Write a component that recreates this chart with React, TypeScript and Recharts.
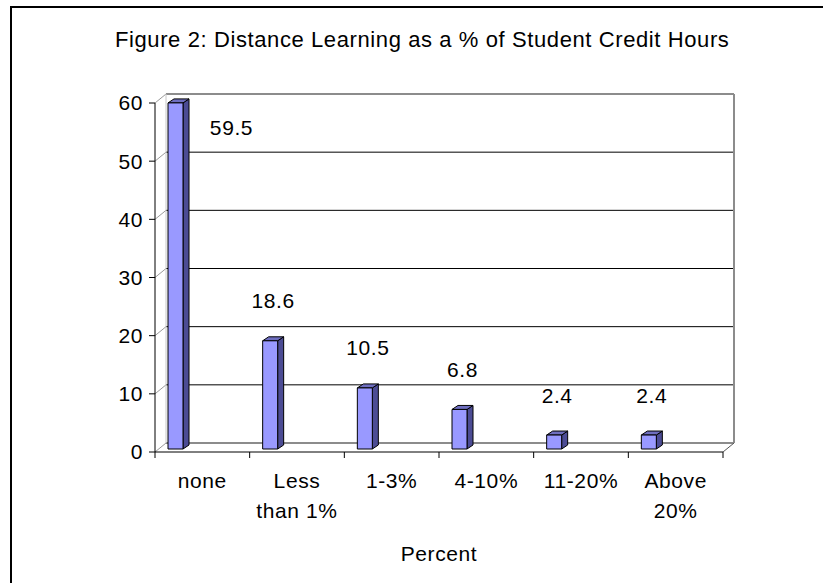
import React from 'react';
import { BarChart, Bar, XAxis, YAxis, CartesianGrid, LabelList } from 'recharts';

// chart values
const categories = ['none', 'Less\nthan 1%', '1-3%', '4-10%', '11-20%', 'Above\n20%'];
const percentValues = [59.5, 18.6, 10.5, 6.8, 2.4, 2.4];
const yTicks = [0, 10, 20, 30, 40, 50, 60];

const data = categories.map((name, i) => ({ name, value: percentValues[i] }));

// 3d look
const DX = 11; // depth of the back wall
const DY = 9;
const BAR_SHIFT = -27; // bars sit left of the category centre, like the excel original
const SIDE_X = 6;
const SIDE_Y = 4;
const LIFT = 3;
const FONT = '"Liberation Sans", Arial, sans-serif';
const FS = 21;
const LS = 0.6;

const renderGridLine = (props: any) => {
  const { x1, y1, x2, y2, index } = props;
  const top = props.y;
  const bottom = props.y != null && props.height != null ? props.y + props.height : undefined;
  const isEdge = y1 === top || y1 === bottom;
  return (
    <g key={`gl-${index}`}>
      <line x1={x1 + DX} y1={y1 - DY} x2={x2 + DX} y2={y2 - DY} stroke={isEdge ? '#8c8c8c' : '#000'} strokeWidth={isEdge ? 2 : 1} />
      <line x1={x1} y1={y1} x2={x1 + DX} y2={y1 - DY} stroke="#9a9a9a" strokeWidth={1} />
      {y1 === top && bottom != null && (
        <>
          <line x1={x2 + DX} y1={top - DY} x2={x2 + DX} y2={bottom - DY} stroke="#8c8c8c" strokeWidth={2} />
          <line x1={x1 + DX} y1={top - DY} x2={x1 + DX} y2={bottom - DY} stroke="#c8c8c8" strokeWidth={1} />
          <line x1={x2} y1={bottom} x2={x2 + DX} y2={bottom - DY} stroke="#555" strokeWidth={1} />
        </>
      )}
    </g>
  );
};

const Bar3D = (props: any) => {
  const { x, y, width, height } = props;
  if (width == null || height == null) return null;
  const fx = x + BAR_SHIFT;
  const t = y - LIFT;
  const b = y + height - LIFT;
  return (
    <g stroke="#000" strokeWidth={1} strokeLinejoin="round">
      <polygon points={`${fx + width},${t} ${fx + width + SIDE_X},${t - SIDE_Y} ${fx + width + SIDE_X},${b - SIDE_Y} ${fx + width},${b}`} fill="#4c4c94" />
      <polygon points={`${fx},${t} ${fx + SIDE_X},${t - SIDE_Y} ${fx + width + SIDE_X},${t - SIDE_Y} ${fx + width},${t}`} fill="#6e6ebf" />
      <rect x={fx} y={t} width={width} height={b - t} fill="#9999ff" />
    </g>
  );
};

const renderValueLabel = (props: any) => {
  const { x, y, width, value, index } = props;
  const cx = x + BAR_SHIFT + (width + SIDE_X) / 2;
  let lx = cx;
  let ly = y - 43;
  // no room above the tallest bar: put it beside the bar
  if (ly < 90) {
    lx = cx + 53;
    ly = y + 22;
  }
  return (
    <text key={`vl-${index}`} x={lx} y={ly} textAnchor="middle" dominantBaseline="central" fontFamily={FONT} fontSize={FS} letterSpacing={LS} fill="#000">
      {value}
    </text>
  );
};

const CategoryTick = (props: any) => {
  const { x, y, payload, index } = props;
  const half = payload?.offset || 47;
  const lines = String(payload.value).split('\n');
  return (
    <g>
      <line x1={x - half} y1={y} x2={x - half} y2={y + 6} stroke="#000" />
      {index === categories.length - 1 && <line x1={x + half} y1={y} x2={x + half} y2={y + 6} stroke="#000" />}
      <text x={x} y={y + 36} textAnchor="middle" fontFamily={FONT} fontSize={FS} letterSpacing={LS} fill="#000">
        {lines.map((ln, i) => (
          <tspan key={i} x={x} dy={i === 0 ? 0 : 30}>{ln}</tspan>
        ))}
      </text>
    </g>
  );
};

export default function App() {
  return (
    <div style={{ position: 'absolute', left: 0, top: 0, width: 823, height: 583, overflow: 'hidden', background: '#fff' }}>
      <div style={{ position: 'absolute', left: 10, top: 6, width: 900, height: 700, borderLeft: '2px solid #000', borderTop: '2px solid #000' }} />
      <div style={{ position: 'absolute', left: 0, top: 0 }}>
        <BarChart width={823} height={583} data={data} margin={{ top: 103, right: 100, left: 115, bottom: 21 }} barSize={15}>
          <text x={115} y={47} textAnchor="start" fontFamily={FONT} fontSize={22} letterSpacing={LS} fill="#000">
            Figure 2: Distance Learning as a % of Student Credit Hours
          </text>
          <CartesianGrid vertical={false} horizontal={renderGridLine} />
          <XAxis
            dataKey="name"
            height={110}
            tickLine={false}
            tickSize={0}
            tickMargin={0}
            axisLine={{ stroke: '#000' }}
            tick={<CategoryTick />}
            interval={0}
            label={{ value: 'Percent', position: 'insideBottom', offset: 1, fontFamily: FONT, fontSize: FS, letterSpacing: LS, fill: '#000' }}
          />
          <YAxis
            width={40}
            domain={[0, 60]}
            ticks={yTicks}
            tickSize={6}
            tickMargin={6}
            axisLine={{ stroke: '#000' }}
            tickLine={{ stroke: '#000' }}
            tick={{ fontFamily: FONT, fontSize: FS, letterSpacing: LS, fill: '#000' }}
          />
          <Bar dataKey="value" shape={<Bar3D />} isAnimationActive={false}>
            <LabelList dataKey="value" content={renderValueLabel} />
          </Bar>
        </BarChart>
      </div>
    </div>
  );
}
